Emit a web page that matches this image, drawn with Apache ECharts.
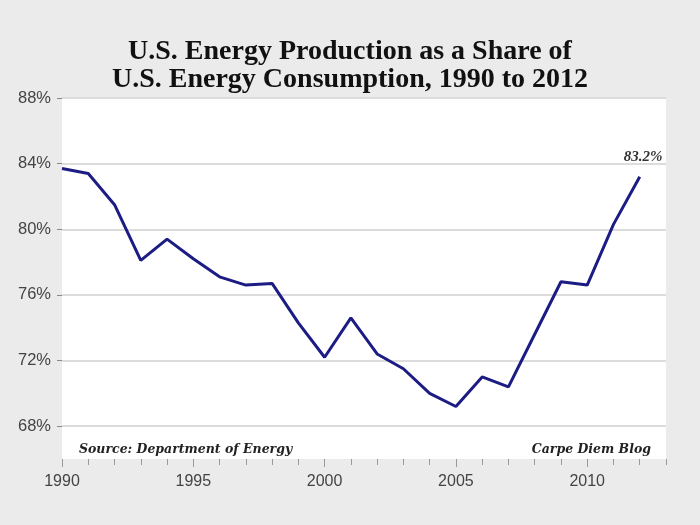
<!DOCTYPE html>
<html>
<head>
<meta charset="utf-8">
<script src="https://cdn.jsdelivr.net/npm/echarts@6/dist/echarts.min.js"></script>
<style>
  html, body { margin: 0; padding: 0; background: #ebebeb; }
  #chart { width: 700px; height: 525px; }
</style>
</head>
<body>
<div id="chart"></div>
<script>
const years = [1990, 1991, 1992, 1993, 1994, 1995, 1996, 1997, 1998, 1999, 2000, 2001,
               2002, 2003, 2004, 2005, 2006, 2007, 2008, 2009, 2010, 2011, 2012];
const shares = [83.7, 83.4, 81.5, 78.1, 79.4, 78.2, 77.1, 76.6, 76.7, 74.3, 72.2, 74.6,
                72.4, 71.5, 70.0, 69.2, 71.0, 70.4, 73.6, 76.8, 76.6, 80.3, 83.2];
const yTickValues = [68, 72, 76, 80, 84, 88];
const xLabelValues = [1990, 1995, 2000, 2005, 2010];
const titleLines = 'U.S. Energy Production as a Share of\nU.S. Energy Consumption, 1990 to 2012';
const sourceText = 'Source: Department of Energy';
const creditText = 'Carpe Diem Blog';
const endLabelText = '83.2%';

const seriesData = years.map((y, i) => [y, shares[i]]);

const chart = echarts.init(document.getElementById('chart'), null, { renderer: 'canvas' });
chart.setOption({
  backgroundColor: '#ebebeb',
  animation: false,
  title: [
    {
      text: titleLines, left: 'center', top: 33,
      textStyle: { fontFamily: 'Liberation Serif', fontWeight: 'bold', fontSize: 28,
                   lineHeight: 28, color: '#111' }
    },
    {
      text: sourceText, left: 74, top: 438,
      textStyle: { fontFamily: 'DejaVu Serif', fontStyle: 'italic', fontWeight: 'bold',
                   fontSize: 12.5, color: '#222' }
    },
    {
      text: creditText, right: 44, top: 438,
      textStyle: { fontFamily: 'DejaVu Serif', fontStyle: 'italic', fontWeight: 'bold',
                   fontSize: 12.5, color: '#222' }
    }
  ],
  grid: { left: 62, right: 34, top: 98, bottom: 66, show: true,
          backgroundColor: '#ffffff', borderWidth: 0, containLabel: false },
  xAxis: [
    {
      type: 'value', min: 1990, max: 2013, interval: 1, position: 'bottom',
      axisLine: { show: false },
      axisTick: { show: true, length: 6, lineStyle: { color: '#999', width: 1 } },
      axisLabel: { customValues: xLabelValues, formatter: v => String(v), margin: 15,
                   fontFamily: 'Liberation Sans', fontSize: 16, color: '#444' },
      splitLine: { show: false }
    },
    {
      type: 'value', min: 1990, max: 2013, position: 'bottom', offset: 0,
      axisLine: { show: false },
      axisTick: { show: true, customValues: xLabelValues, length: 8,
                  lineStyle: { color: '#999', width: 1 } },
      axisLabel: { show: false },
      splitLine: { show: false }
    }
  ],
  yAxis: {
    type: 'value', min: 66, max: 88,
    axisLine: { show: false },
    axisTick: { show: true, customValues: yTickValues, length: 5,
                lineStyle: { color: '#888', width: 1 } },
    axisLabel: { customValues: yTickValues, formatter: v => v + '%', margin: 11,
                 fontFamily: 'Liberation Sans', fontSize: 16.5, color: '#444' },
    splitLine: { show: true, lineStyle: { color: '#dcdcdc', width: 2 } }
  },
  series: [{
    type: 'line', xAxisIndex: 0, yAxisIndex: 0,
    data: seriesData, symbol: 'none', smooth: false,
    lineStyle: { color: '#1c1c84', width: 3 },
    endLabel: {
      show: true, formatter: endLabelText, distance: 0, offset: [-16, -20],
      fontFamily: 'Liberation Serif', fontStyle: 'italic', fontWeight: 'bold',
      fontSize: 15, color: '#333'
    },
    z: 5
  }]
});
</script>
</body>
</html>
